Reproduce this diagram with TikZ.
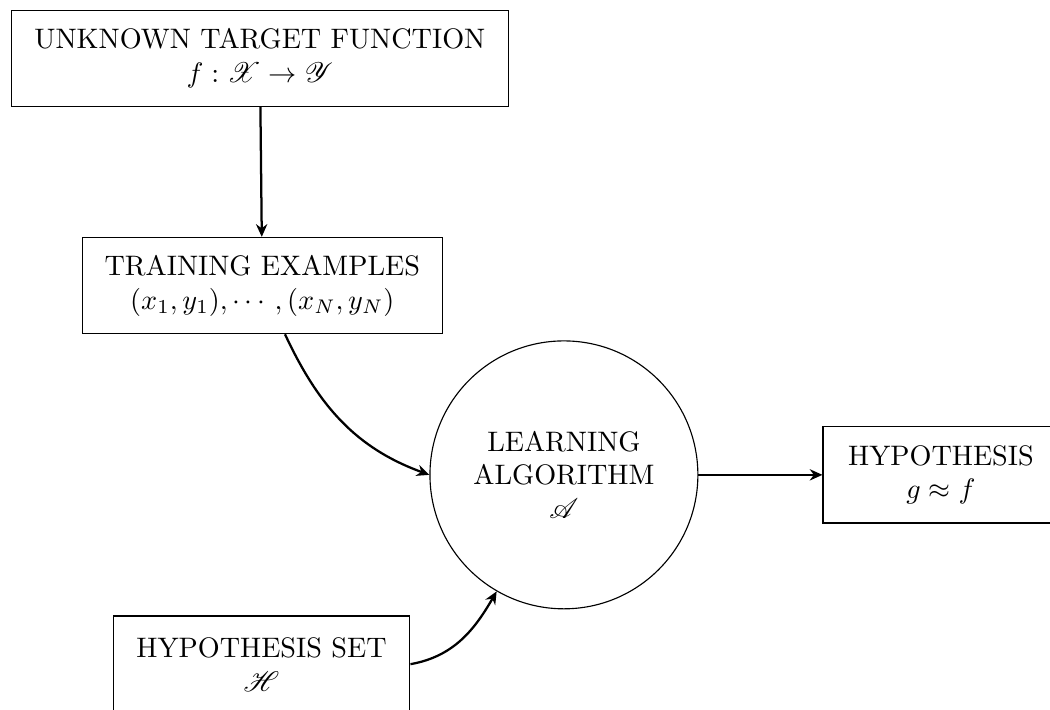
\documentclass[tikz,border=0pt]{standalone}
\usepackage{amsmath}
\usepackage{mathrsfs}
\usetikzlibrary{arrows.meta}

\begin{document}
\begin{tikzpicture}[
    box/.style={draw, align=center, minimum height=1.2cm},
    link/.style={-{Stealth[length=4.5pt, width=4pt]}, thick}]
    \useasboundingbox (0,0) rectangle (13.09,8.84);

    % Target function
    \node[box, minimum width=6.19cm] (target) at (3.24,8.11) {UNKNOWN TARGET FUNCTION\\ $f : \mathscr{X} \to \mathscr{Y}$};

    % Training data
    \node[box, minimum width=4.49cm] (train) at (3.27,5.28) {TRAINING EXAMPLES\\ $(x_1, y_1), \cdots, (x_N, y_N)$};

    % Learning algorithm
    \node[draw, circle, align=center, minimum size=3.34cm] (algo) at (7.03,2.92) {LEARNING\\ ALGORITHM\\ $\mathscr{A}$};

    % Final hypothesis
    \node[box, minimum width=2.94cm] (hyp) at (11.73,2.92) {HYPOTHESIS\\ $g \approx f$};

    % Hypothesis set
    \node[box, minimum width=3.70cm] (hset) at (3.26,0.56) {HYPOTHESIS SET\\ $\mathscr{H}$};

    \draw[link] (target) -- (train);
    \draw[link] (train) to[out=-65, in=160] (algo.west);
    \draw[link] (hset.east) to[out=10, in=-120] (algo);
    \draw[link] (algo) -- (hyp);
\end{tikzpicture}
\end{document}
